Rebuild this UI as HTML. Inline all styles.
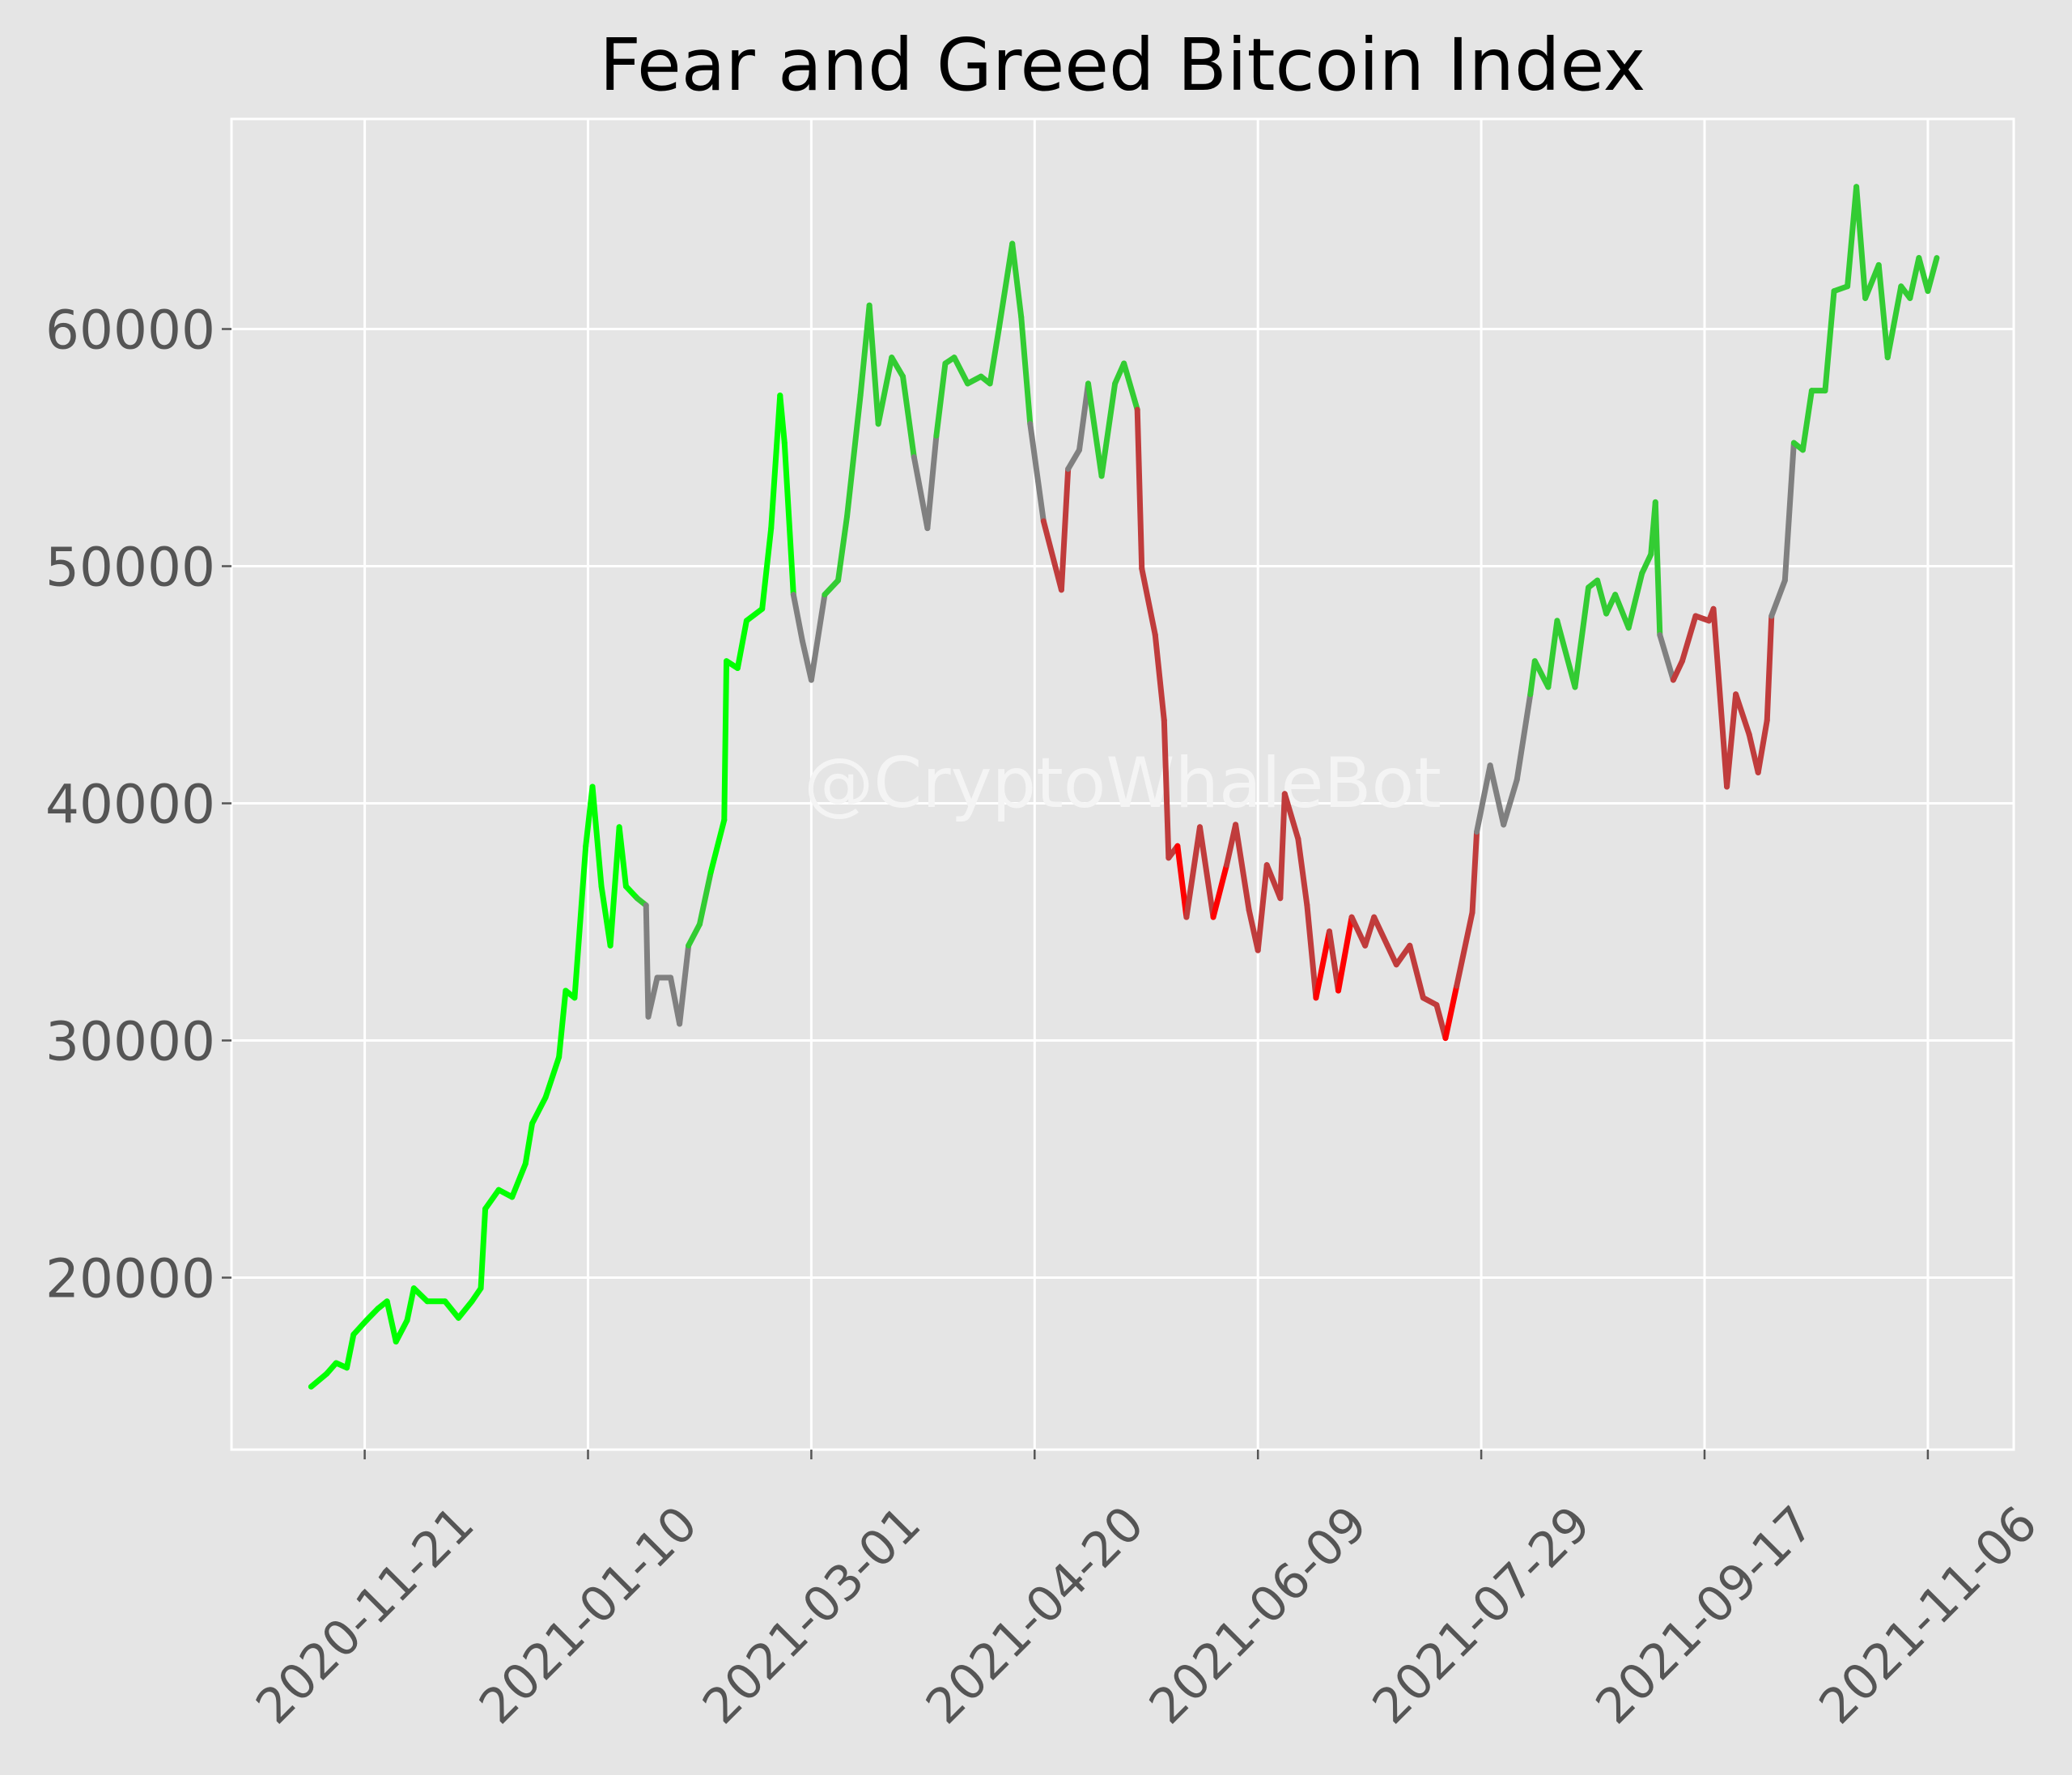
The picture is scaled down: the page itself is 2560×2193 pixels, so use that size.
<!DOCTYPE html>
<html><head><meta charset="utf-8"><style>
html,body{margin:0;padding:0;background:#e5e5e5;}
svg{display:block;font-family:"DejaVu Sans","Liberation Sans",sans-serif;}
</style></head><body>
<svg id="chart" width="2560" height="2193" viewBox="0 0 2560 2193">
<rect x="0" y="0" width="2560" height="2193" fill="#e5e5e5"/>
<text x="1387" y="111" font-size="89" text-anchor="middle" fill="#000">Fear and Greed Bitcoin Index</text>
<g id="grid"></g>
<rect x="286" y="147" width="2202" height="1644" fill="none" stroke="#fff" stroke-width="3"/>
<text x="1387" y="997" font-size="86" text-anchor="middle" fill="#f4f4f4">@CryptoWhaleBot</text>
<g id="series"></g>
<g id="axes"></g>
</svg>
<script>
const tickDates = ["2020-11-21","2021-01-10","2021-03-01","2021-04-20","2021-06-09","2021-07-29","2021-09-17","2021-11-06"];
const tickDays = [12,62,112,162,212,262,312,362];
const yTicks = [20000,30000,40000,50000,60000];
const days = [0,3.5,5.6,8,9.5,12.4,15,17,19,21.5,23,26,30,33,36,38,39,42,45,48,49.5,52.5,55.5,57,59,61.5,63,65,67,69,70.5,73,75,75.5,77.5,80.5,82.5,84.5,87,89.5,92.5,93,95.5,97.5,101,103,105,106,108,110,112,115,118,120,123,125,127,130,132.5,135,138,140,142,144,147,150,152,154,157,159,161,164,168,169.5,172,174,177,180,182,185,186,189,191,192,194,196,199,202,205,207,210,212,214,217,218,221,223,225,228,230,233,236,238,241,243,246,249,252,254,256.5,260,261,264,267,270,273,274,277,279,283,286,288,290,292,295,298,300,301,302,305,307,310,313,314,317,319,322,324,326,327,330,332,334,336,339,341,344,346,348,351,353,356,358,360,362,364];
const prices = [15400,15950,16400,16200,17600,18200,18700,19000,17300,18200,19550,19000,19000,18300,19000,19550,22900,23700,23400,24800,26500,27600,29300,32100,31800,38200,40700,36500,34000,39000,36500,36000,35700,31000,32650,32650,30700,34000,34900,37100,39300,46000,45700,47700,48200,51600,57200,55200,48800,46850,45200,48800,49400,52100,57200,61000,56000,58800,58000,54600,51600,55500,58550,58800,57700,58000,57700,60000,63600,60500,56000,51900,49000,54100,54900,57700,53800,57700,58550,56600,49900,47100,43500,37700,38200,35200,39000,35200,37400,39100,35500,33800,37400,36000,40400,38500,35700,31800,34600,32100,35200,34000,35200,34000,33200,34000,31800,31500,30100,32300,35400,38800,41600,39100,41000,44600,46000,44900,47700,44900,49100,49400,48000,48800,47400,49700,50500,52700,47100,45200,46000,47900,47700,48200,40700,44600,42900,41300,43500,47900,49400,55200,54900,57400,57400,61600,61800,66000,61300,62700,58800,61800,61300,63000,61600,63000];
const fgIndex = [90,90,90,90,90,90,90,90,90,90,90,90,90,90,90,90,90,90,90,90,90,90,90,90,90,90,90,90,90,90,90,70,50,50,52,52,52,55,70,80,90,90,90,90,90,90,90,90,50,50,50,70,70,70,70,70,70,70,70,50,50,70,70,70,70,70,70,70,70,70,50,40,40,50,50,70,70,70,70,40,40,40,40,40,20,40,40,20,40,40,40,40,40,40,40,40,40,20,40,20,40,40,40,40,40,40,40,30,20,40,40,50,50,50,50,70,70,70,70,70,70,70,70,70,70,70,70,70,50,40,40,40,40,40,40,40,40,40,40,50,50,70,70,70,70,70,70,70,70,70,70,70,70,70,70,70];

const NS="http://www.w3.org/2000/svg";
const X0=286,X1=2488,Y0=147,Y1=1791;
function xScale(d){return 450.6+(d-12)*5.518;}
function yScale(p){return 406.5+(60000-p)*0.0293;}
function color(v){if(v<25)return"#ff0000";if(v<45)return"#c03c3c";if(v<55)return"#808080";if(v<75)return"#33cc33";return"#00ff00";}
function mk(tag,attrs,parent){const e=document.createElementNS(NS,tag);for(const k in attrs)e.setAttribute(k,attrs[k]);parent.appendChild(e);return e;}

const grid=document.getElementById('grid'),axes=document.getElementById('axes'),series=document.getElementById('series');
tickDays.forEach((d,i)=>{
  const x=xScale(d);
  const g=mk('line',{x1:x,x2:x,y1:Y0,y2:Y1,stroke:'#fff','stroke-width':3},grid);
  
  
  const t=mk('line',{x1:x,x2:x,y1:Y1,y2:Y1+12,stroke:'#555','stroke-width':2.5},axes);
  
  
  const lb=mk('text',{x:x,y:2016,'font-size':60,fill:'#555','text-anchor':'middle',transform:`rotate(-45 ${x} 1995)`},axes);
  lb.textContent=tickDates[i];
  
  
});
yTicks.forEach(v=>{
  const y=yScale(v);
  const g=mk('line',{x1:X0,x2:X1,y1:y,y2:y,stroke:'#fff','stroke-width':3},grid);
  
  
  const t=mk('line',{x1:X0-12,x2:X0,y1:y,y2:y,stroke:'#555','stroke-width':2.5},axes);
  
  
  const lb=mk('text',{x:266,y:y+24,'font-size':66,fill:'#555','text-anchor':'end'},axes);
  lb.textContent=String(v);
  
  
});
for(let i=0;i<days.length-1;i++){
  const s=mk('line',{x1:xScale(days[i]),y1:yScale(prices[i]),x2:xScale(days[i+1]),y2:yScale(prices[i+1]),stroke:color(fgIndex[i]),'stroke-width':7,'stroke-linecap':'round'},series);
  
  
}
</script>
</body></html>
